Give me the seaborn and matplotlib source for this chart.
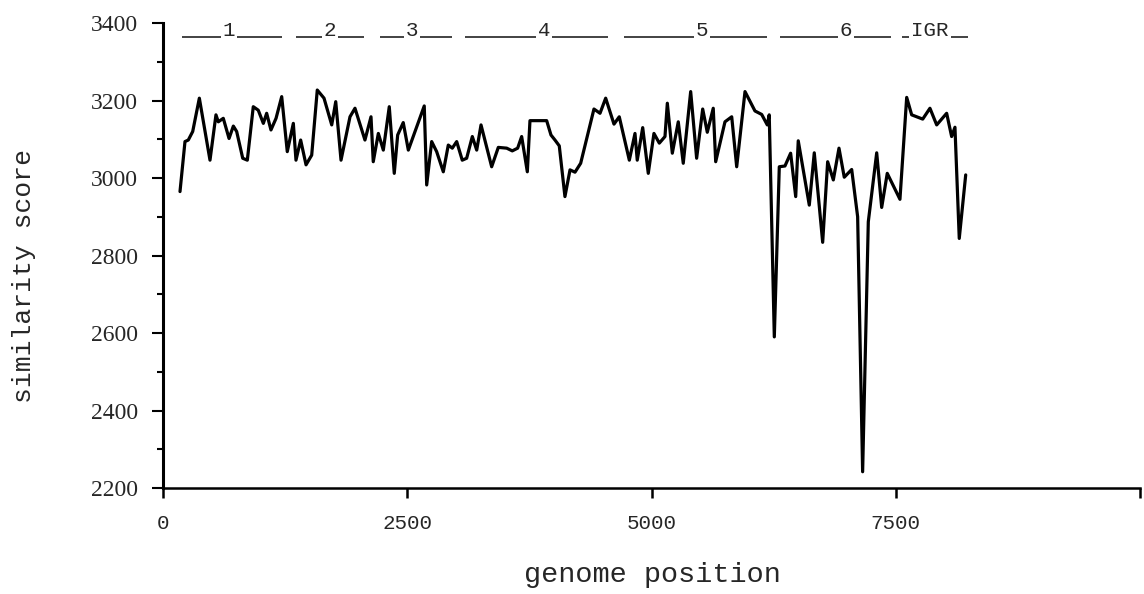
import pandas as pd
import matplotlib.pyplot as plt
import seaborn as sns

# similarity scan along the genome
positions = [174, 225, 259, 304, 372, 481, 542, 566, 617, 676,
             720, 754, 816, 863, 924, 975, 1027, 1061, 1105, 1157,
             1215, 1272, 1334, 1361, 1409, 1464, 1522, 1579, 1648, 1727,
             1768, 1822, 1914, 1965, 2067, 2129, 2152, 2204, 2255, 2316,
             2367, 2402, 2459, 2511, 2674, 2699, 2750, 2801, 2869, 2920,
             2961, 3006, 3063, 3108, 3166, 3211, 3255, 3364, 3432, 3518,
             3575, 3630, 3671, 3729, 3756, 3927, 3971, 4012, 4056, 4114,
             4166, 4217, 4275, 4337, 4411, 4473, 4531, 4616, 4670, 4773,
             4831, 4854, 4910, 4967, 5025, 5080, 5138, 5162, 5213, 5274,
             5325, 5401, 5462, 5524, 5571, 5632, 5657, 5752, 5821, 5872,
             5957, 6059, 6128, 6185, 6205, 6257, 6308, 6366, 6424, 6476,
             6502, 6615, 6666, 6752, 6803, 6861, 6919, 6973, 7049, 7110,
             7161, 7219, 7305, 7356, 7413, 7543, 7612, 7663, 7776, 7850,
             7919, 8021, 8072, 8106, 8150, 8216]
scores = [2965, 3094, 3098, 3120, 3206, 3046, 3163, 3145, 3154, 3102,
          3134, 3120, 3051, 3046, 3184, 3175, 3141, 3167, 3124, 3154,
          3210, 3068, 3141, 3046, 3098, 3034, 3059, 3227, 3206, 3137,
          3197, 3046, 3158, 3180, 3098, 3158, 3042, 3115, 3072, 3184,
          3012, 3111, 3143, 3072, 3186, 2982, 3094, 3068, 3016, 3085,
          3077, 3094, 3046, 3051, 3107, 3072, 3137, 3029, 3079, 3077,
          3070, 3077, 3107, 3016, 3148, 3148, 3111, 3098, 3083, 2952,
          3021, 3015, 3038, 3102, 3178, 3167, 3206, 3139, 3158, 3046,
          3115, 3046, 3130, 3012, 3115, 3090, 3107, 3193, 3064, 3145,
          3038, 3223, 3051, 3178, 3118, 3180, 3042, 3145, 3158, 3029,
          3223, 3173, 3164, 3137, 3163, 2590, 3029, 3031, 3064, 2952,
          3096, 2930, 3065, 2834, 3042, 2995, 3077, 3002, 3022, 2900,
          2242, 2887, 3065, 2924, 3012, 2945, 3208, 3163, 3152, 3180,
          3137, 3167, 3107, 3131, 2844, 3008]

# gene regions marked along the top
gene_names = ['1', '2', '3', '4', '5', '6', 'IGR']
gene_starts = [194, 1361, 2221, 3091, 4718, 6315, 7564]
gene_ends = [1218, 2057, 2958, 4555, 6182, 7451, 8239]
gene_label_pos = [675, 1709, 2548, 3900, 5517, 6990, 7850]
gene_y = 3364

x_ticks = [0, 2500, 5000, 7500, 10000]
x_ticklabels = ['0', '2500', '5000', '7500', '']
y_ticks = [2200, 2400, 2600, 2800, 3000, 3200, 3400]

df = pd.DataFrame({'position': positions, 'score': scores})

sns.set_style('ticks')
plt.rcParams['font.family'] = ['Liberation Mono', 'DejaVu Sans Mono']

fig = plt.figure(figsize=(11.44, 5.94), dpi=100)
ax = fig.add_axes([163 / 1144, 106 / 594, 977 / 1144, 465 / 594])

sns.lineplot(data=df, x='position', y='score', ax=ax, color='black',
             linewidth=2.3, sort=False, estimator=None)

# gene bars with labels breaking the line
for name, s, e, p in zip(gene_names, gene_starts, gene_ends, gene_label_pos):
    ax.hlines(gene_y, s, e, color='#222222', linewidth=1.2)
    ax.text(p, gene_y - 8, name, ha='center', va='bottom', fontsize=15,
            bbox=dict(facecolor='white', edgecolor='none', pad=1.5))

ax.set_xlim(0, 10000)
ax.set_ylim(2200, 3400)
ax.set_xticks(x_ticks)
ax.set_xticklabels(x_ticklabels, fontsize=15)
ax.set_yticks(y_ticks)
ax.set_yticks([2300, 2500, 2700, 2900, 3100, 3300], minor=True)
ax.set_yticklabels([str(t) for t in y_ticks], fontsize=17,
                   family='Liberation Serif')

ax.tick_params(axis='y', which='major', length=8, width=1.5, pad=10, color='black')
ax.tick_params(axis='y', which='minor', length=4.5, width=1.5, color='black')
ax.tick_params(axis='x', which='major', length=7, width=1.8, pad=12, color='black')

sns.despine(ax=ax)
ax.spines['left'].set_linewidth(2.2)
ax.spines['bottom'].set_linewidth(1.8)
ax.spines['left'].set_color('black')
ax.spines['bottom'].set_color('black')

ax.set_xlabel('genome position', fontsize=20.5)
ax.xaxis.set_label_coords((652 - 163) / 977, (488 - 562) / 465)
ax.xaxis.label.set_va('top')
ax.set_ylabel('similarity score', fontsize=19)
ax.yaxis.set_label_coords((24 - 163) / 977, (488 - 276) / 465)
ax.yaxis.label.set_va('center')
ax.yaxis.label.set_ha('center')

fig.savefig('out.png', dpi=100, facecolor='white')
